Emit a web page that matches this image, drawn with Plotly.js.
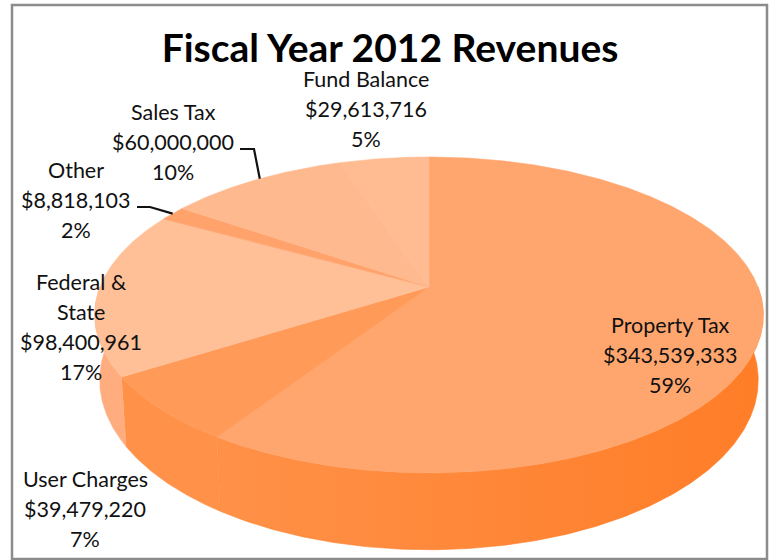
<!DOCTYPE html>
<html>
<head>
<meta charset="utf-8">
<script src="https://cdn.plot.ly/plotly-3.0.0.min.js"></script>
<style>html,body{margin:0;padding:0;background:#fff}</style>
</head>
<body>
<div id="chart" style="width:770px;height:560px"></div>
<script>
// Data (clockwise from 12 o'clock)
const categories = ["Property Tax", "User Charges", "Federal &<br>State", "Other", "Sales Tax", "Fund Balance"];
const revenues = [343539333, 39479220, 98400961, 8818103, 60000000, 29613716];
const topColors = ["#FFA66E", "#FF9A58", "#FFBF97", "#FFA26B", "#FFB98E", "#FFBC93"];
const wallColors = ["#FF8233", "#FF9148", "#FFAD7F", "#FF9148", "#FFAD7F", "#FFAD7F"];
const title = "Fiscal Year 2012 Revenues";

// Label centres (pixels) and line step
const labelX = [670, 85, 81, 76, 173, 366];
const labelY = [325, 479, 282, 170, 112, 79];
const lineStep = 30;

// Perspective view of the pie disc
const cx = 429, cy = 287, A = 329, B = 153, k = 0.177;
const wallDepth = 63, wallK = 0.18, wallShrink = 0.985;
function rim(deg, lower) {
  const t = deg * Math.PI / 180, u = Math.sin(t), v = Math.cos(t), den = 1 + k * v;
  let x = A * u / den, y = cy - B * v / den;
  if (lower) { x *= wallShrink; y += wallDepth / (1 + wallK * v); }
  return [cx + x, y];
}
function arc(a, b, lower) {
  const pts = [], n = Math.max(2, Math.ceil(Math.abs(b - a) * 2));
  for (let i = 0; i <= n; i++) pts.push(rim(a + (b - a) * i / n, lower));
  return pts;
}

const total = revenues.reduce((s, v) => s + v, 0);
let run = 0;
const spans = revenues.map(v => { const a = run; run += v / total * 360; return [a, run]; });
const fmt = v => "$" + v.toLocaleString("en-US");
const pct = v => Math.round(v / total * 100) + "%";

const traces = [];
// Side walls: only the part of the rim facing the viewer
spans.forEach(([a, b], i) => {
  const lo = Math.max(a, 90), hi = Math.min(b, 270);
  if (hi <= lo) return;
  const pts = arc(lo, hi, false).concat(arc(hi, lo, true));
  const tr = {
    x: pts.map(p => p[0]), y: pts.map(p => p[1]), mode: "lines", fill: "toself",
    line: {width: 0.6, color: wallColors[i]}, fillcolor: wallColors[i],
    hoverinfo: "skip", showlegend: false
  };
  if (i === 0) {
    tr.fillgradient = {type: "horizontal", colorscale: [[0, "#FF9148"], [0.35, "#FF8A3D"], [1, "#FF7D27"]]};
    tr.line.color = "#FF7F2A";
  }
  traces.push(tr);
});
// Top faces
spans.forEach(([a, b], i) => {
  const pts = [[cx, cy]].concat(arc(a, b, false), [[cx, cy]]);
  traces.push({
    x: pts.map(p => p[0]), y: pts.map(p => p[1]), mode: "lines", fill: "toself",
    line: {width: 0.6, color: topColors[i]}, fillcolor: topColors[i],
    name: categories[i].replace("<br>", " "),
    text: fmt(revenues[i]) + " (" + pct(revenues[i]) + ")", hoverinfo: "name+text", hoveron: "fills",
    showlegend: false
  });
});
// Leader lines: from a label elbow to the middle of the slice's rim
const leaders = {4: [[240, 149], [254, 149]], 3: [[137, 207], [150, 207]]};
Object.keys(leaders).forEach(i => {
  const end = rim((spans[i][0] + spans[i][1]) / 2 + (i == 4 ? 1 : 0), false);
  const pts = leaders[i].concat([end]);
  traces.push({
    x: pts.map(p => p[0]), y: pts.map(p => p[1]), mode: "lines",
    line: {width: 2.2, color: "#111"}, hoverinfo: "skip", showlegend: false
  });
});

const labelFont = {family: "Lato, Carlito, sans-serif", size: 21.5, color: "#111"};
const annotations = [];
categories.forEach((c, i) => {
  const lines = c.split("<br>").concat([fmt(revenues[i]), pct(revenues[i])]);
  lines.forEach((t, j) => annotations.push({
    text: t, x: labelX[i], y: labelY[i] + j * lineStep, xref: "x", yref: "y",
    showarrow: false, xanchor: "center", yanchor: "middle", font: labelFont
  }));
});

const layout = {
  width: 770, height: 560,
  margin: {l: 0, r: 0, t: 0, b: 0},
  paper_bgcolor: "#fff", plot_bgcolor: "#fff",
  title: {
    text: "<b>" + title + "</b>", x: 390 / 770, xanchor: "center", y: 1 - 48 / 560, yanchor: "middle",
    font: {family: "Lato, Carlito, sans-serif", size: 39, color: "#000"}
  },
  xaxis: {range: [0, 770], visible: false, fixedrange: true},
  yaxis: {range: [560, 0], visible: false, fixedrange: true},
  showlegend: false,
  annotations: annotations,
  shapes: [{type: "rect", xref: "paper", yref: "paper",
    x0: 12 / 770, x1: 767 / 770, y0: 1 - 559 / 560, y1: 1 - 5 / 560,
    line: {color: "#8C8C8C", width: 2.5}, fillcolor: "rgba(0,0,0,0)", layer: "above"}]
};
Plotly.newPlot("chart", traces, layout, {displayModeBar: false});
</script>
</body>
</html>
